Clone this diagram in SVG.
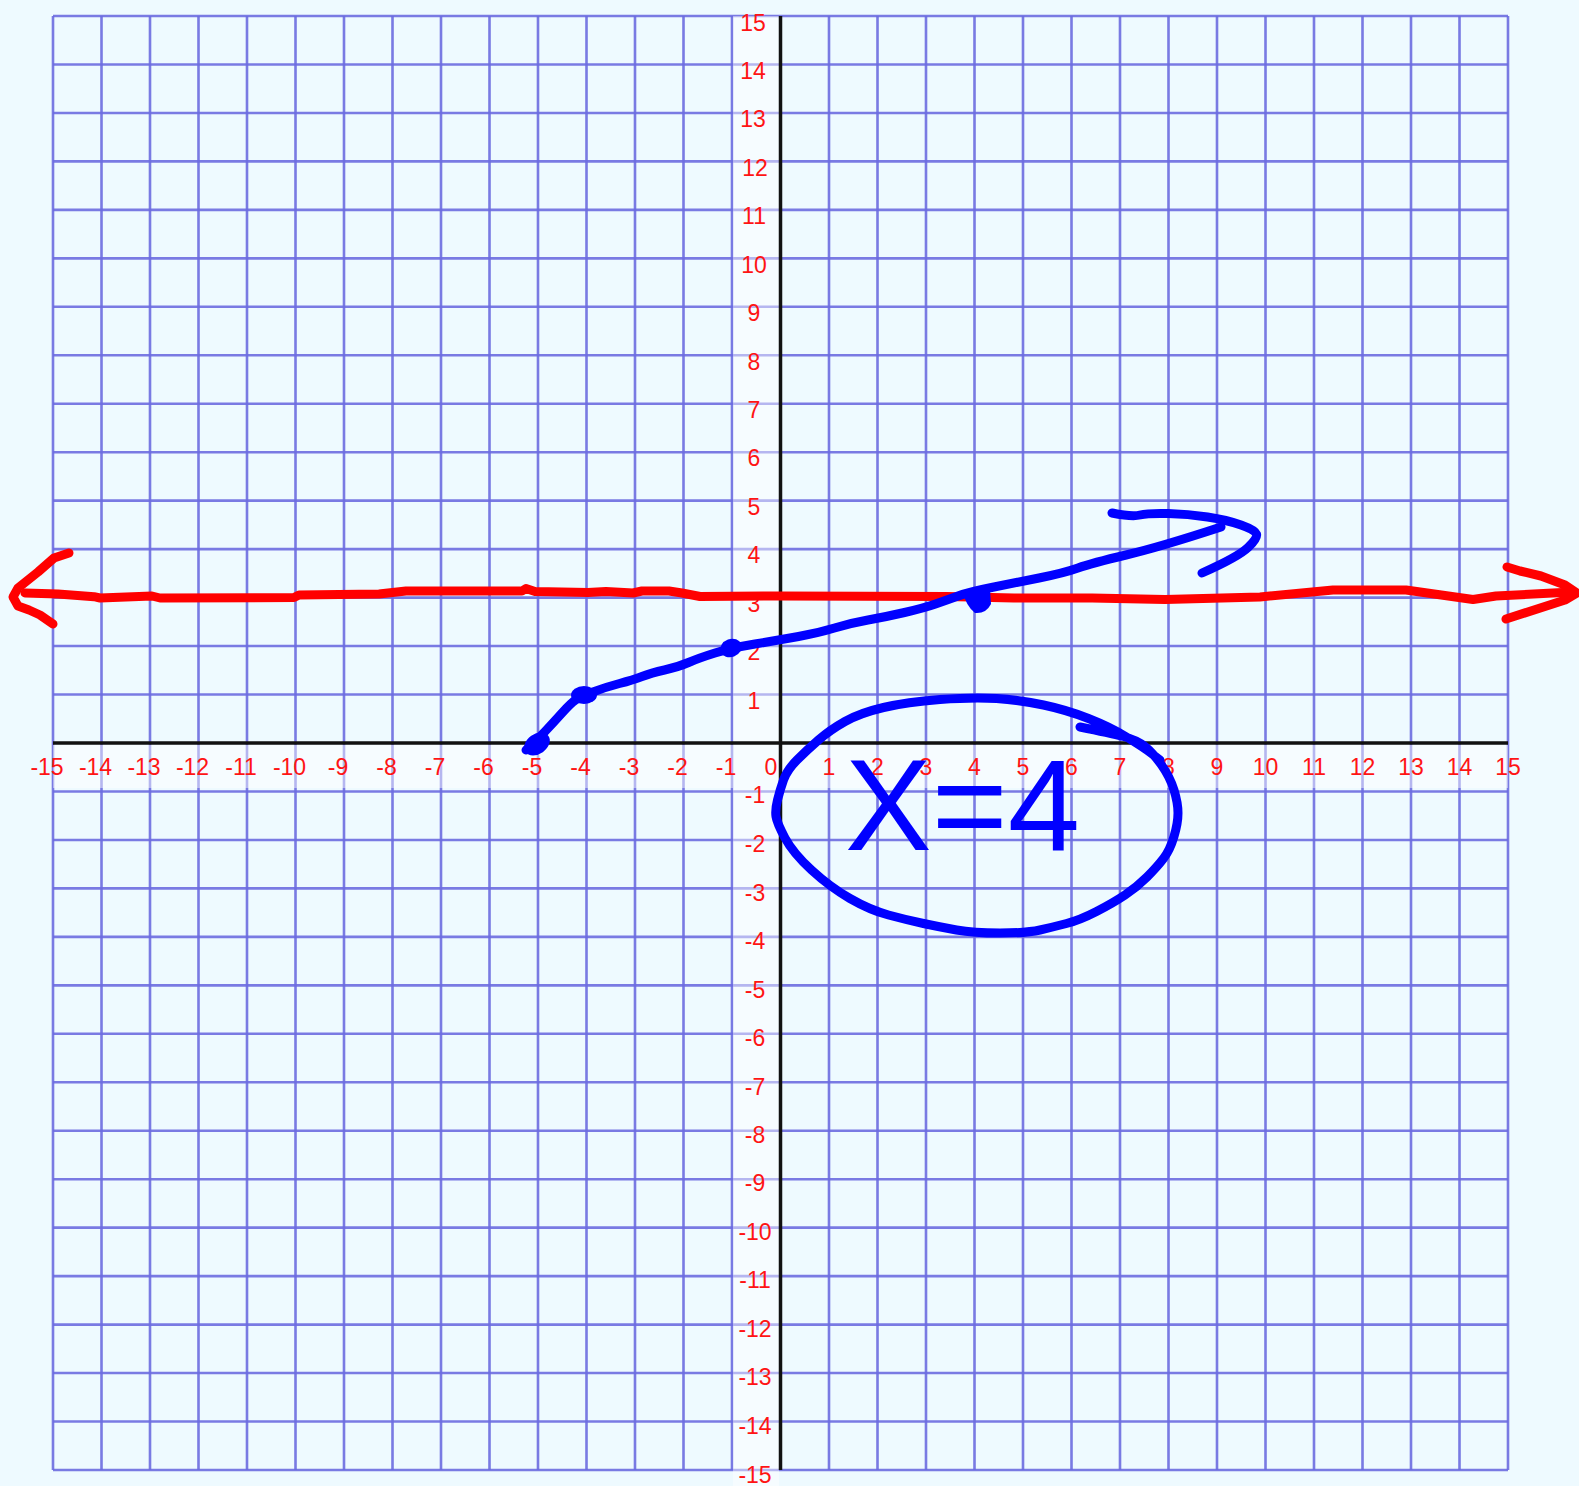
<svg xmlns="http://www.w3.org/2000/svg" width="1579" height="1486" viewBox="0 0 1579 1486">
<style>
.grid{fill:none;stroke:#6c6ce0;stroke-width:2.6;stroke-opacity:0.9}
.axis{fill:none;stroke:#111;stroke-width:3.5}
.lbl{font-family:"Liberation Sans",Arial,sans-serif;font-size:23px;fill:#ff1414;text-anchor:middle}
.red{fill:none;stroke:#ff0000;stroke-width:9;stroke-linecap:round;stroke-linejoin:round}
.blue{fill:none;stroke:#0000ff;stroke-width:9;stroke-linecap:round;stroke-linejoin:round}
.dot{fill:#0000ff}
.hand{font-family:"Liberation Sans",Arial,sans-serif;font-size:130px;fill:#0000ff}
</style>
<rect x="0" y="0" width="1579" height="1486" fill="#eefaff"/>
<g id="grid">
<path class="grid" d="M53,16V1470M101.5,16V1470M150,16V1470M198.5,16V1470M247,16V1470M295.5,16V1470M344,16V1470M392.5,16V1470M441,16V1470M489.5,16V1470M538,16V1470M586.5,16V1470M635,16V1470M683.5,16V1470M732,16V1470M829,16V1470M877.5,16V1470M926,16V1470M974.5,16V1470M1023,16V1470M1071.5,16V1470M1120,16V1470M1168.5,16V1470M1217,16V1470M1265.5,16V1470M1314,16V1470M1362.5,16V1470M1411,16V1470M1459.5,16V1470M1508,16V1470"/>
<path class="grid" d="M53,16H1508M53,64.47H1508M53,112.93H1508M53,161.4H1508M53,209.87H1508M53,258.33H1508M53,306.8H1508M53,355.27H1508M53,403.73H1508M53,452.2H1508M53,500.67H1508M53,549.13H1508M53,597.6H1508M53,646.07H1508M53,694.53H1508M53,791.47H1508M53,839.93H1508M53,888.4H1508M53,936.87H1508M53,985.33H1508M53,1033.8H1508M53,1082.27H1508M53,1130.73H1508M53,1179.2H1508M53,1227.67H1508M53,1276.13H1508M53,1324.6H1508M53,1373.07H1508M53,1421.53H1508M53,1470H1508"/>
<path d="M733,16H779V745H1508V788H779V1486H733V788H53V745H733Z" fill="#ffffff" fill-opacity="0.45"/>
</g>
<g id="axes">
<path class="axis" d="M53,743H1508M780.5,16V1470"/>
</g>
<g id="x-labels" class="lbl">
<text x="47" y="775">-15</text><text x="95.5" y="775">-14</text><text x="144" y="775">-13</text><text x="192.5" y="775">-12</text><text x="241" y="775">-11</text><text x="289.5" y="775">-10</text><text x="338" y="775">-9</text><text x="386.5" y="775">-8</text><text x="435" y="775">-7</text><text x="483.5" y="775">-6</text><text x="532" y="775">-5</text><text x="580.5" y="775">-4</text><text x="629" y="775">-3</text><text x="677.5" y="775">-2</text><text x="726" y="775">-1</text>
<text x="771" y="775">0</text>
<text x="829" y="775">1</text><text x="877.5" y="775">2</text><text x="926" y="775">3</text><text x="974.5" y="775">4</text><text x="1023" y="775">5</text><text x="1071.5" y="775">6</text><text x="1120" y="775">7</text><text x="1168.5" y="775">8</text><text x="1217" y="775">9</text><text x="1265.5" y="775">10</text><text x="1314" y="775">11</text><text x="1362.5" y="775">12</text><text x="1411" y="775">13</text><text x="1459.5" y="775">14</text><text x="1508" y="775">15</text>
</g>
<g id="y-labels" class="lbl">
<text x="753" y="31">15</text><text x="753" y="78.5">14</text><text x="753" y="127">13</text><text x="755" y="175.5">12</text><text x="754" y="224">11</text><text x="754" y="272.5">10</text><text x="754" y="321">9</text><text x="754" y="369.5">8</text><text x="754" y="418">7</text><text x="754" y="466">6</text><text x="754" y="514.5">5</text><text x="754" y="563">4</text><text x="754" y="611.5">3</text><text x="754" y="660">2</text><text x="754" y="708.5">1</text>
<text x="755" y="803">-1</text><text x="755" y="852">-2</text><text x="755" y="900.5">-3</text><text x="755" y="949">-4</text><text x="755" y="997.5">-5</text><text x="755" y="1046">-6</text><text x="755" y="1094.5">-7</text><text x="755" y="1143">-8</text><text x="755" y="1191">-9</text><text x="755" y="1239.5">-10</text><text x="755" y="1288">-11</text><text x="755" y="1336.5">-12</text><text x="755" y="1385">-13</text><text x="755" y="1433.5">-14</text><text x="755" y="1483">-15</text>
</g>
<g id="red-line">
<path class="red" d="M25,593 L58,594 L94,596.7 L100,598 L152,596 L160,598 L294,597.5 L299,595 L379,594 L406,591 L522,591 L526,588.5 L535,591.5 L588,592.5 L606,591.5 L633,593 L642,591 L669,591 L682,593 L700,596.5 L778,596 L947,596.5 L1014,598 L1092,598 L1165,599.5 L1260,597 L1333,590 L1406,590 L1473,599.5 L1496,596 L1572,592"/>
<path class="red" d="M69,553 L54,558 L38,572 L18,588 L13,597 L18,606 L29,610 L40,615 L53,624"/>
<path class="red" d="M1507,567 L1520,571 L1541,576 L1565,585 L1577,593 L1565,600 L1506,619"/>
</g>
<g id="blue-curve">
<path class="blue" d="M526,750 Q537,740 545,731.5 Q553,723 562,713 Q571,703 575.5,700 Q580,697 593,692 Q606,687 619.5,683.5 Q633,680 642,676.5 Q651,673 664.5,670 Q678,667 688.5,662.5 Q699,658 715,653 Q731,648 755,644 Q779,640 798.5,636.5 Q818,633 834.5,628 Q851,623 868,620 Q885,617 904.5,612.5 Q924,608 935.5,604 Q947,600 958,596 Q969,592 991.5,587.5 Q1014,583 1039,578 Q1064,573 1078,568 Q1092,563 1126,555 Q1160,547 1221,527"/>
<path class="blue" d="M1112,513 Q1132,517 1140,515 Q1148,513 1168,513.5 Q1188,514 1207.5,517 Q1227,520 1241,525 Q1255,530 1256.5,534 Q1258,538 1248,547.5 Q1238,557 1202,573"/>
<ellipse class="dot" cx="537" cy="744" rx="14" ry="10" transform="rotate(-35 537 744)"/>
<ellipse class="dot" cx="584" cy="695" rx="13" ry="9"/>
<ellipse class="dot" cx="731" cy="648" rx="11" ry="9" transform="rotate(-20 731 648)"/>
<path class="dot" d="M963,592 Q975,585 990,590 L991,604 Q986,614 975,613 Q966,606 963,592Z"/>
</g>
<g id="answer">
<path class="blue" d="M1080,727 Q1110,733 1123.5,736.5 Q1137,740 1145,746.5 Q1153,753 1161.5,765 Q1170,777 1174,790 Q1178,803 1178,813 Q1178,823 1174,836.5 Q1170,850 1163.5,858.5 Q1157,867 1147,877 Q1137,887 1125,895 Q1113,903 1096.5,911.5 Q1080,920 1066.5,923.5 Q1053,927 1040,930 Q1027,933 1000,933 Q973,933 956.5,930 Q940,927 923.5,923.5 Q907,920 888.5,915 Q870,910 850,898.5 Q830,887 811.5,870 Q793,853 785,838 Q777,823 776,816.5 Q775,810 777.5,800 Q780,790 783.5,780 Q787,770 797,760 Q807,750 818.5,740 Q830,730 845,721.5 Q860,713 883.5,707.5 Q907,702 940,699.5 Q973,697 996.5,698.5 Q1020,700 1043.5,705 Q1067,710 1088.5,718.5 Q1110,727 1126.5,737 Q1143,747 1151.5,753.5 L1160,760"/>
<text class="hand" x="845" y="850" textLength="235" lengthAdjust="spacingAndGlyphs">X=4</text>
</g>
</svg>
